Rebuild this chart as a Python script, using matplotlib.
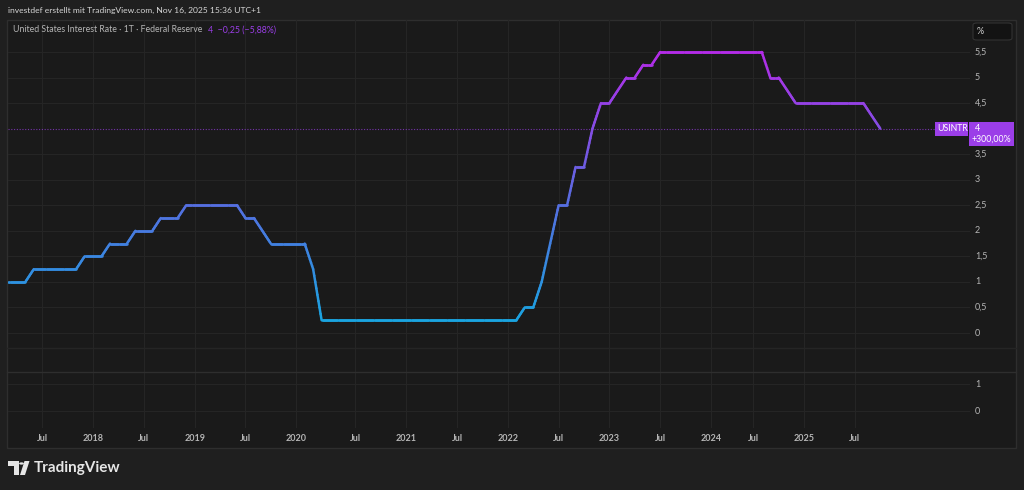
import numpy as np
import pandas as pd
import matplotlib.pyplot as plt
from matplotlib.collections import LineCollection
from matplotlib.colors import LinearSegmentedColormap
from matplotlib.patches import Rectangle, Polygon, Circle, FancyBboxPatch
from matplotlib.transforms import blended_transform_factory

W, H = 1024, 490

# monthly prints Mar 2017 .. Oct 2025 (two prints in Mar 2020, none in Apr 2024)
months = [p.strftime("%Y-%m") for p in pd.period_range("2017-03", "2025-10", freq="M")]
months.insert(months.index("2020-03"), "2020-03")
months.remove("2024-04")

rate = [
    1.0, 1.0, 1.0, 1.25, 1.25, 1.25, 1.25, 1.25, 1.25, 1.5,                 # 2017
    1.5, 1.5, 1.75, 1.75, 1.75, 2.0, 2.0, 2.0, 2.25, 2.25, 2.25, 2.5,       # 2018
    2.5, 2.5, 2.5, 2.5, 2.5, 2.5, 2.25, 2.25, 2.0, 1.75, 1.75, 1.75,        # 2019
    1.75, 1.75, 1.25, 0.25, 0.25, 0.25, 0.25, 0.25, 0.25, 0.25, 0.25, 0.25, 0.25,  # 2020
    0.25, 0.25, 0.25, 0.25, 0.25, 0.25, 0.25, 0.25, 0.25, 0.25, 0.25, 0.25,  # 2021
    0.25, 0.25, 0.5, 0.5, 1.0, 1.75, 2.5, 2.5, 3.25, 3.25, 4.0, 4.5,       # 2022
    4.5, 4.75, 5.0, 5.0, 5.25, 5.25, 5.5, 5.5, 5.5, 5.5, 5.5, 5.5,         # 2023
    5.5, 5.5, 5.5, 5.5, 5.5, 5.5, 5.5, 5.0, 5.0, 4.75, 4.5,                # 2024
    4.5, 4.5, 4.5, 4.5, 4.5, 4.5, 4.5, 4.5, 4.25, 4.0,                     # 2025
]

tick_months = ["2017-07", "2018-01", "2018-07", "2019-01", "2019-07", "2020-01",
               "2020-07", "2021-01", "2021-07", "2022-01", "2022-07", "2023-01",
               "2023-07", "2024-01", "2024-07", "2025-01", "2025-07"]
tick_labels = ["Jul", "2018", "Jul", "2019", "Jul", "2020", "Jul", "2021", "Jul",
               "2022", "Jul", "2023", "Jul", "2024", "Jul", "2025", "Jul"]
price_ticks = [0, 0.5, 1, 1.5, 2, 2.5, 3, 3.5, 4.5, 5, 5.5]
lower_ticks = [0, 1]

header = "investdef erstellt mit TradingView.com, Nov 16, 2025 15:36 UTC+1"
legend_name = "United States Interest Rate · 1T · Federal Reserve"
legend_value = "4  −0,25 (−5,88%)"
symbol = "USINTR"
last_change = "+300,00%"

OUTER = "#1f1f1f"
INNER = "#1a1a1a"
GRID = "#252525"
SEP = "#2e2e2e"
TXT = "#b5b5b5"
PURPLE = "#9b3ee8"

plt.rcParams["font.family"] = ["Lato", "DejaVu Sans"]


def fx(x):
    return x / W


def fy(y):
    return 1 - y / H


fig = plt.figure(figsize=(W / 100, H / 100), dpi=100, facecolor=OUTER)

# chart frame
fig.add_artist(Rectangle((fx(7), fy(448)), (1016 - 7) / W, (448 - 20) / H,
                         transform=fig.transFigure, facecolor=INNER,
                         edgecolor=SEP, linewidth=1, zorder=0))

x = np.arange(len(rate))
xlim = (-0.05, 113.6)

# vertical grid + time axis
gax = fig.add_axes([fx(8), fy(428), (970 - 8) / W, (428 - 20) / H])
gax.set_facecolor("none")
gax.set_xlim(*xlim)
gax.set_ylim(0, 1)
tick_pos = [months.index(m) for m in tick_months]
for t in tick_pos:
    gax.axvline(t, color=GRID, lw=0.8, zorder=0)
gax.set_xticks(tick_pos)
gax.set_xticklabels(tick_labels, color=TXT, fontsize=6.5, fontweight="bold")
gax.tick_params(axis="x", length=0, pad=4)
gax.set_yticks([])
for s in gax.spines.values():
    s.set_visible(False)

# pane separators
for yy, c in [(348, GRID), (372, SEP)]:
    fig.add_artist(plt.Line2D([fx(7), fx(1016)], [fy(yy), fy(yy)],
                              transform=fig.transFigure, color=c, lw=1))

# main pane
ax = fig.add_axes([fx(8), fy(348), (970 - 8) / W, (348 - 20) / H])
ax.set_facecolor("none")
ax.set_xlim(*xlim)
ax.set_ylim(-15 * 5.5 / 281, 5.5 + 32 * 5.5 / 281)
ax.axis("off")
for p in price_ticks:
    ax.axhline(p, color=GRID, lw=0.8, zorder=0)

cmap = LinearSegmentedColormap.from_list(
    "rate", [(0.0, "#14a9e0"), (0.45, "#5470e0"), (1.0, "#b42ce8")])
pts = np.column_stack([x, rate]).astype(float)
segs, cols = [], []
for a, b in zip(pts[:-1], pts[1:]):
    tt = np.linspace(0, 1, 9)
    sub = a + (b - a) * tt[:, None]
    for u, v in zip(sub[:-1], sub[1:]):
        segs.append([u, v])
        cols.append(cmap((u[1] + v[1]) / 2 / 5.5))
lc = LineCollection(segs, colors=cols, linewidths=1.8, capstyle="round", zorder=3)
ax.add_collection(lc)

ax.axhline(rate[-1], color=PURPLE, lw=0.8, ls=(0, (1, 1.5)), alpha=0.7, zorder=2)

# price scale labels
ptr = blended_transform_factory(fig.transFigure, ax.transData)
for p in price_ticks:
    ax.text(fx(975), p, f"{p:g}".replace(".", ","), transform=ptr, color=TXT,
            fontsize=6.5, va="center", ha="left", clip_on=False)

# lower pane
lax = fig.add_axes([fx(8), fy(428), (970 - 8) / W, (428 - 372) / H])
lax.set_facecolor("none")
lax.set_xlim(*xlim)
lax.set_ylim(-17 / 27, 1 + 12 / 27)
lax.axis("off")
ltr = blended_transform_factory(fig.transFigure, lax.transData)
for p in lower_ticks:
    lax.axhline(p, color=GRID, lw=0.8, zorder=0)
    lax.text(fx(975), p, f"{p:g}", transform=ltr, color=TXT,
             fontsize=6.5, va="center", ha="left", clip_on=False)

# "%" box
fig.add_artist(FancyBboxPatch((fx(973), fy(40)), (1012 - 973) / W, (40 - 23) / H,
                              boxstyle="round,pad=0,rounding_size=0.004",
                              transform=fig.transFigure, facecolor="#131313",
                              edgecolor="#333333", lw=0.8))
fig.text(fx(977), fy(31.5), "%", color="#d0d0d0", fontsize=6.5, va="center")

# last value labels
fig.canvas.draw()
ypx = ax.transData.transform((0, rate[-1]))[1]
yc = 1 - (H - ypx) / H
fig.add_artist(Rectangle((fx(935), yc - 7 / H), (968 - 935) / W, 14 / H,
                         transform=fig.transFigure, facecolor=PURPLE, lw=0))
fig.add_artist(Rectangle((fx(969), yc - 17 / H), (1014 - 969) / W, 24 / H,
                         transform=fig.transFigure, facecolor=PURPLE, lw=0))
fig.text(fx(937), yc, symbol, color="white", fontsize=6.3, va="center", ha="left")
fig.text(fx(975), yc, f"{rate[-1]:g}", color="white", fontsize=6.5, va="center", ha="left")
fig.text(fx(972), yc - 11 / H, last_change, color="white", fontsize=6.3, va="center", ha="left")

# header and legend
fig.text(fx(8), fy(10), header, color="#d6d6d6", fontsize=6.1, va="center", ha="left")
t1 = fig.text(fx(13), fy(30), legend_name, color=TXT, fontsize=6.3, va="center", ha="left")
fig.canvas.draw()
x_end = t1.get_window_extent().x1
fig.text((x_end + 6) / W, fy(30), legend_value, color=PURPLE, fontsize=6.3,
         va="center", ha="left")

# TradingView logo
logo = "#e6e6e6"
fig.add_artist(Polygon([(fx(8), fy(461)), (fx(18.5), fy(461)), (fx(18.5), fy(475)),
                        (fx(13.5), fy(475)), (fx(13.5), fy(466)), (fx(8), fy(466))],
                       closed=True, transform=fig.transFigure, facecolor=logo, lw=0))
fig.add_artist(Circle((fx(21.5), fy(463.5)), 2.4 / W, transform=fig.transFigure,
                      facecolor=logo, lw=0))
fig.add_artist(Polygon([(fx(24.5), fy(461)), (fx(29.5), fy(461)), (fx(25), fy(475)),
                        (fx(20), fy(475))],
                       closed=True, transform=fig.transFigure, facecolor=logo, lw=0))
fig.text(fx(34), fy(468), "TradingView", color=logo, fontsize=11, fontweight="bold",
         va="center", ha="left")

fig.savefig("out.png", dpi=100, facecolor=OUTER)
